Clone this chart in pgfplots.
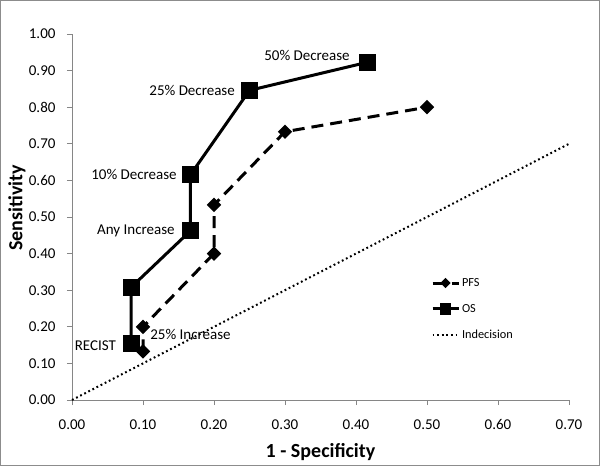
\documentclass[border=0pt]{standalone}
\usepackage{pgfplots}
\pgfplotsset{compat=1.18}
\usepackage{fontspec}
\setmainfont{Carlito}
\definecolor{axgray}{HTML}{868686}
\definecolor{framegray}{HTML}{8C8C8C}
\begin{document}
\begin{tikzpicture}
\useasboundingbox (0,0) rectangle (600bp,466bp);
\draw[framegray, line width=1bp] (0.5bp,0.5bp) rectangle (599.5bp,465.5bp);
\begin{axis}[
  at={(72bp,66bp)}, anchor=south west,
  scale only axis, width=497bp, height=366bp,
  xmin=0, xmax=0.7, ymin=0, ymax=1,
  xtick={0,0.1,...,0.71}, ytick={0,0.1,...,1.01},
  axis x line*=bottom, axis y line*=left,
  axis line style={axgray, line width=0.8bp},
  tick style={axgray, line width=0.8bp},
  tick align=outside, major tick length=5bp,
  /pgf/number format/assume math mode=true,
  /pgf/number format/.cd, fixed, fixed zerofill, precision=2, /pgfplots/.cd,
  ticklabel style={font=\fontsize{15bp}{18bp}\selectfont},
  xticklabel style={yshift=-11bp},
  yticklabel style={xshift=-8bp},
  xlabel={1 - Specificity}, ylabel={Sensitivity},
  xlabel style={font=\fontsize{20bp}{24bp}\selectfont\bfseries, at={(axis description cs:0.5,-0.142)}, anchor=center},
  ylabel style={font=\fontsize{20bp}{24bp}\selectfont\bfseries, at={(axis description cs:-0.1107,0.5246)}, anchor=center},
  legend style={draw=none, fill=none, at={(axis description cs:0.716,0.344)}, anchor=north west,
    font=\fontsize{12.3bp}{15bp}\selectfont, row sep=12.5bp},
  legend cell align=left,
  legend image code/.code={\draw[mark repeat=2,mark phase=2,#1, every mark/.append style={scale=0.6}] plot coordinates {(0bp,0bp) (13bp,0bp) (26bp,0bp)};},
  clip=false,
]
\addplot[black, line width=3bp, dash pattern=on 12bp off 7bp, mark=square*, mark size=3.6bp, mark options={rotate=45, solid}]
  coordinates {(0.10,0.133) (0.10,0.200) (0.20,0.400) (0.20,0.533) (0.30,0.733) (0.50,0.800)};
\addlegendentry{PFS}
\addplot[black, line width=3bp, mark=square*, mark size=7bp, mark options={solid}]
  coordinates {(0.0833,0.154) (0.0833,0.308) (0.1667,0.462) (0.1667,0.615) (0.25,0.846) (0.4167,0.923)};
\addlegendentry{OS}
\addplot[black, line width=2bp, dash pattern=on 1.8bp off 2.8bp]
  coordinates {(0,0) (0.70,0.70)};
\addlegendentry{Indecision}
\begin{scope}[every node/.style={font=\fontsize{15bp}{18bp}\selectfont, inner sep=0pt}]
\node[anchor=east, xshift=-15bp, yshift=-2.5bp] at (axis cs:0.0833,0.154) {RECIST};
\node[anchor=west] at (axis cs:0.110,0.180) {25\% Increase};
\node[anchor=east, xshift=-15.5bp] at (axis cs:0.1667,0.462) {Any Increase};
\node[anchor=east, xshift=-13.5bp] at (axis cs:0.1667,0.615) {10\% Decrease};
\node[anchor=east, xshift=-14.5bp] at (axis cs:0.25,0.846) {25\% Decrease};
\node[anchor=east, xshift=-18bp, yshift=6.5bp] at (axis cs:0.4167,0.923) {50\% Decrease};
\end{scope}
\end{axis}
\end{tikzpicture}
\end{document}
